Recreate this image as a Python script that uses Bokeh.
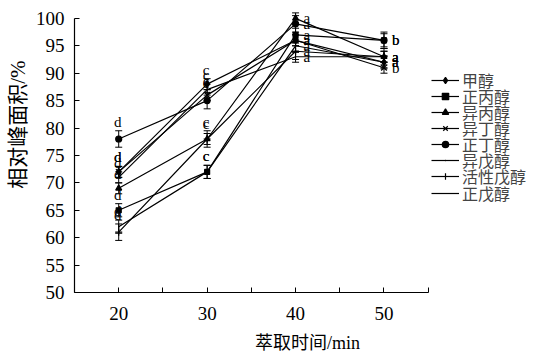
from bokeh.plotting import figure
from bokeh.models import FixedTicker, Legend, LegendItem, ColumnDataSource, Whisker, TeeHead, Title
from bokeh.core.properties import value
from bokeh.embed import file_html
from bokeh.resources import INLINE

times = [20, 30, 40, 50]
names = ["甲醇", "正丙醇", "异丙醇", "异丁醇", "正丁醇", "异戊醇", "活性戊醇", "正戊醇"]
methanol = [72, 88, 96, 92]
propanol = [65, 72, 97, 96]
isopropanol = [69, 78, 100, 93]
isobutanol = [72, 86, 96, 91]
butanol = [78, 85, 99, 96]
isoamyl = [62, 72, 95, 92]
active_amyl = [61, 78, 94, 93]
amyl = [71, 87, 93, 93]
errors = [1.0, 1.2, 1.0, 1.0, 1.5, 1.2, 1.5, 1.0]
letters = [
    ["d", "c", "a", "a"],
    ["d", "c", "a", "b"],
    ["d", "c", "a", "a"],
    ["d", "c", "a", "b"],
    ["d", "c", "a", "b"],
    ["d", "c", "a", "a"],
    ["d", "c", "a", "a"],
    ["d", "c", "a", "a"],
]
series = [methanol, propanol, isopropanol, isobutanol, butanol, isoamyl, active_amyl, amyl]
markers = ["diamond", "square", "triangle", "x", "circle", "dot", "cross", None]
msizes = [7, 5, 6, 8, 6, 6, 7, 0]

FONT = "Liberation Serif, Noto Sans CJK SC"

p = figure(width=540, height=362, output_backend="svg", toolbar_location=None,
           x_range=(15, 67.7), y_range=(50, 101.8),
           min_border_left=72, min_border_right=0, min_border_top=8, min_border_bottom=70)
p.outline_line_color = None
p.grid.grid_line_color = None

for i, (name, ys, err, lts, mk, ms) in enumerate(zip(names, series, errors, letters, markers, msizes)):
    src = ColumnDataSource(dict(x=times, y=ys, up=[v + err for v in ys], lo=[v - err for v in ys],
                                t=lts))
    rs = [p.line("x", "y", source=src, line_color="black", line_width=1.2)]
    if mk:
        rs.append(p.scatter("x", "y", source=src, marker=mk, size=ms, line_color="black",
                            fill_color="black", line_width=1.2))
    w = Whisker(base="x", upper="up", lower="lo", source=src, line_color="black", line_width=1,
                upper_head=TeeHead(size=7, line_color="black", line_width=1),
                lower_head=TeeHead(size=7, line_color="black", line_width=1))
    p.add_layout(w)
    left = ColumnDataSource(dict(x=times[:2], y=[v + err + 0.2 for v in ys[:2]], t=lts[:2]))
    right = ColumnDataSource(dict(x=times[2:], y=ys[2:], t=lts[2:]))
    p.text("x", "y", text="t", source=left, text_font=value(FONT), text_font_size="15px",
           text_align="center", text_baseline="bottom", x_offset=-1, text_color="black")
    p.text("x", "y", text="t", source=right, text_font=value(FONT), text_font_size="15px",
           text_align="left", text_baseline="middle", x_offset=8, text_color="black")
    lg = Legend(items=[LegendItem(label=name, renderers=rs)],
                location=(357, round(211 - 16.15 * i - 10.5)),
                border_line_color=None, background_fill_alpha=0,
                label_text_font=FONT, label_text_font_size="16px", label_text_line_height=1.0,
                glyph_width=28, glyph_height=16, label_height=16,
                spacing=0, padding=0, margin=0, label_standoff=3)
    p.add_layout(lg, "center")

p.xaxis.ticker = FixedTicker(ticks=[20, 30, 40, 50], minor_ticks=[15, 25, 35, 45, 55])
p.xaxis.bounds = (15, 55)
p.yaxis.ticker = FixedTicker(ticks=list(range(50, 101, 5)))
p.yaxis.bounds = (50, 100)
for ax in (p.xaxis, p.yaxis):
    ax.axis_line_color = "black"
    ax.axis_line_width = 1.2
    ax.major_tick_in = 5
    ax.major_tick_out = 0
    ax.minor_tick_in = 0
    ax.minor_tick_out = 0
    ax.major_tick_line_color = "black"
    ax.major_label_text_font = FONT
    ax.major_label_text_font_size = "19px"
    ax.major_label_text_color = "black"
    ax.axis_label_text_font = FONT
    ax.axis_label_text_font_size = "18px"
    ax.axis_label_text_font_style = "normal"
    ax.axis_label_text_color = "black"
p.xaxis.minor_tick_in = 5
p.xaxis.minor_tick_line_color = "black"
p.xaxis.major_label_standoff = 14
p.yaxis.major_label_standoff = 10
p.xaxis.axis_label = "萃取时间/min"
p.xaxis.axis_label_standoff = 10

ytitle = Title(text="相对峰面积/%", align="right", offset=52, standoff=6,
               text_font=FONT, text_font_size="21px", text_font_style="normal", text_color="black")
p.add_layout(ytitle, "left")

open("out.html", "w").write(file_html(p, INLINE))
